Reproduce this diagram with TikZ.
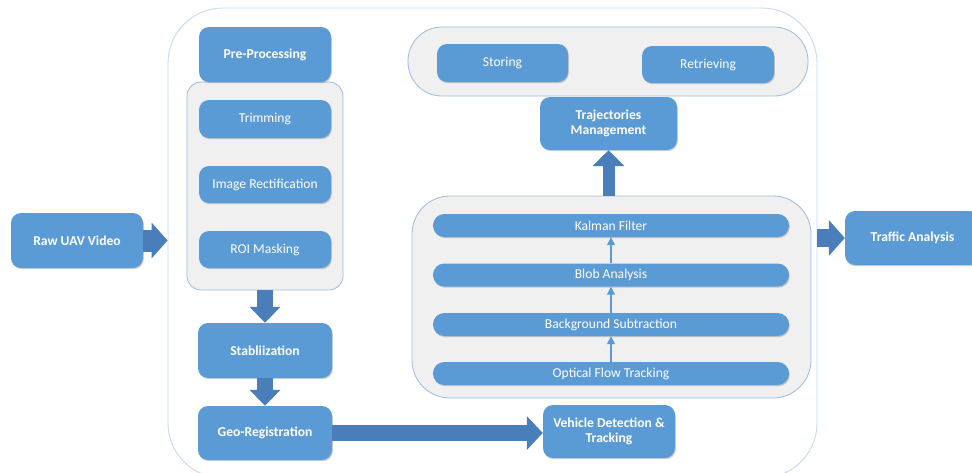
\documentclass[tikz,border=0pt]{standalone}
\usepackage{fontspec}
\setmainfont{Carlito}
\usetikzlibrary{arrows.meta,shadows,calc}
\definecolor{boxblue}{HTML}{5B9BD5}
\definecolor{arrowblue}{HTML}{4A7EBB}
\definecolor{grayfill}{HTML}{F0F0F0}
\definecolor{grayline}{HTML}{9DBBE0}
\definecolor{outerline}{HTML}{C6D9F1}
\tikzset{
  shade/.style={drop shadow={shadow xshift=0.8pt,shadow yshift=-1.2pt,opacity=0.18,fill=black}},
  bigbox/.style={draw=none,fill=boxblue,rounded corners=10pt,text=white,
    font=\fontsize{13.6}{15.5}\selectfont\bfseries,align=center,inner sep=0pt,shade},
  smallbox/.style={draw=none,fill=boxblue,rounded corners=10pt,text=white,
    font=\fontsize{13.6}{15.5}\selectfont,align=center,inner sep=0pt,shade},
  barbox/.style={draw=none,fill=boxblue,rounded corners=11.4pt,text=white,
    font=\fontsize{13.6}{15.5}\selectfont,inner sep=0pt,minimum width=356,minimum height=23,shade},
  container/.style={draw=grayline,line width=0.8pt,fill=grayfill,inner sep=0pt},
  outerbox/.style={draw=outerline,line width=0.9pt,fill=white,rounded corners=55pt,inner sep=0pt},
  blockarrow/.style={draw=arrowblue,line cap=butt,-{Triangle[width=#1,length=16pt]}},
  thinarrow/.style={draw=boxblue,line width=1.3pt,-{Triangle[width=8pt,length=8pt]}}
}
\begin{document}
\begin{tikzpicture}[x=1pt,y=-1pt]
\useasboundingbox (0,0) rectangle (972,472);
% outer frame
\node[outerbox,minimum width=649,minimum height=470] (outer) at (492.5,243) {};
% containers
\node[container,rounded corners=14pt,minimum width=156,minimum height=208] (prec) at (265,186) {};
\node[container,rounded corners=34pt,minimum width=400,minimum height=69] (store) at (608,61.5) {};
\node[container,rounded corners=38pt,minimum width=399,minimum height=202] (det) at (611.5,297) {};
% main boxes
\node[bigbox,minimum width=132,minimum height=55] (raw) at (77,240.5) {Raw UAV Video};
\node[bigbox,minimum width=132,minimum height=55] (pre) at (265,54.5) {Pre-Processing};
\node[smallbox,minimum width=132,minimum height=38] (trim) at (265,119) {Trimming};
\node[smallbox,minimum width=132,minimum height=37] (rect) at (265,184.5) {Image Rectification};
\node[smallbox,minimum width=132,minimum height=37] (roi) at (265,249.5) {ROI Masking};
\node[bigbox,minimum width=134,minimum height=55] (stab) at (265,350.5) {Stabliization};
\node[bigbox,minimum width=134,minimum height=54] (geo) at (265,433) {Geo-Registration};
\node[bigbox,minimum width=132,minimum height=53] (veh) at (609,431.5) {Vehicle Detection \&\\Tracking};
\node[smallbox,minimum width=131,minimum height=38] (storing) at (502.5,63) {Storing};
\node[smallbox,minimum width=132,minimum height=37] (retr) at (708,64.5) {Retrieving};
\node[bigbox,minimum width=137,minimum height=53] (traj) at (608.5,123.5) {Trajectories\\Management};
\node[barbox] (kal) at (611,225.5) {Kalman Filter};
\node[barbox] (blob) at (611,275) {Blob Analysis};
\node[barbox] (bgs) at (611,324.5) {Background Subtraction};
\node[barbox] (opt) at (611,373.5) {Optical Flow Tracking};
\node[bigbox,minimum width=135,minimum height=54] (traf) at (912.5,238) {Traffic Analysis};
% block arrows
\draw[blockarrow=35pt,line width=22pt] (raw.east) -- (raw.east -| outer.west);
\draw[blockarrow=30pt,line width=16pt] (prec.south) -- (stab.north);
\draw[blockarrow=30pt,line width=16pt] (stab.south) -- (geo.north);
\draw[blockarrow=33pt,line width=16pt] (geo.east) -- (geo.east -| veh.west);
\draw[blockarrow=31pt,line width=12pt] (traj.south |- det.north) -- (traj.south);
\draw[blockarrow=35pt,line width=18pt] (outer.east |- traf.west) -- (traf.west);
% thin arrows
\draw[thinarrow] (opt.north) -- (bgs.south);
\draw[thinarrow] (bgs.north) -- (blob.south);
\draw[thinarrow] (blob.north) -- (kal.south);
\end{tikzpicture}
\end{document}
